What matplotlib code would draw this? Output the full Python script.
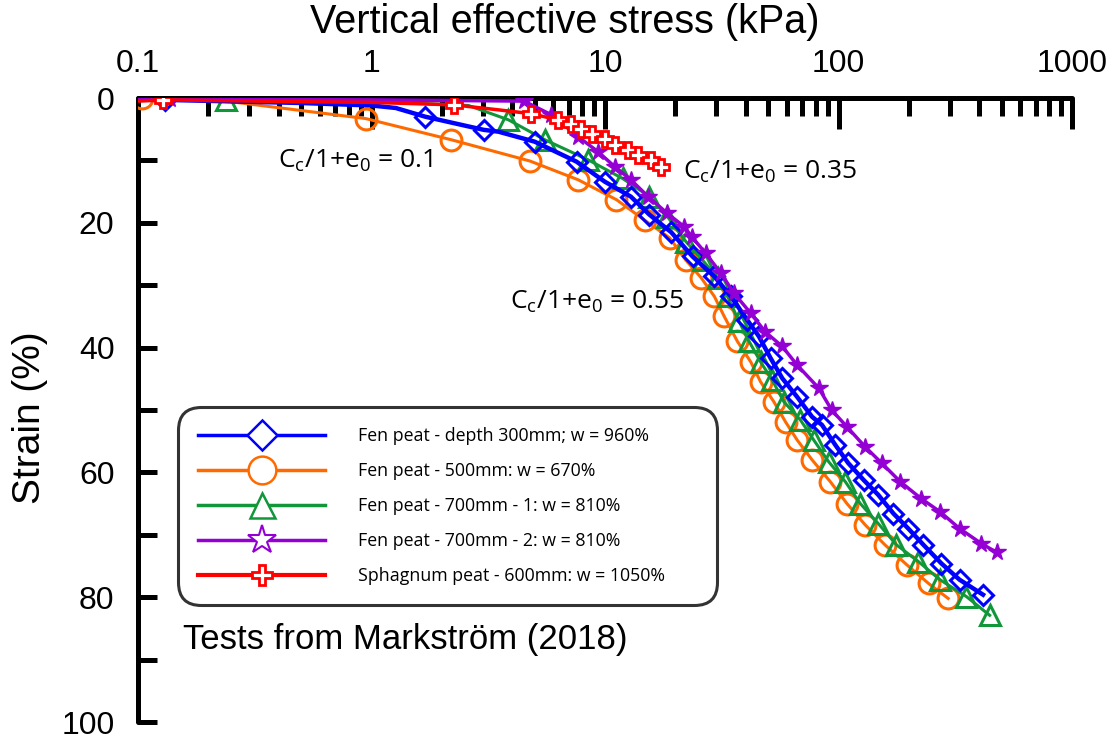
import numpy as np
import matplotlib
matplotlib.use("Agg")
import matplotlib.pyplot as plt
from matplotlib.lines import Line2D
from matplotlib.ticker import FixedLocator, NullFormatter, FuncFormatter

plt.rcParams['font.family'] = ['Liberation Sans', 'DejaVu Sans']

# Oedometer tests: vertical effective stress (kPa) vs strain (%)
blue_stress = [0.10, 0.13, 0.5, 1.0, 1.27, 1.70, 3.02, 3.5, 5.0, 7.55, 9.97, 12.9, 15.5, 19.2,
               23.7, 29.4, 34.6, 40.7, 45.6, 51.2, 57.4, 66.5, 77.1, 85, 96.9, 110, 128, 148,
               172, 199, 231, 276, 330, 416]
blue_strain = [0.3, 0.3, 0.8, 1.2, 1.6, 3.0, 5.1, 5.4, 7.0, 10.2, 13.4, 15.8, 18.7, 21.5,
               25.4, 28.6, 31.8, 35.6, 38.2, 41.7, 44.9, 47.9, 51.1, 52.4, 55.6, 58.5, 61.2, 63.6,
               66.6, 69.0, 71.6, 74.6, 77.2, 79.6]
blue_marks = [1, 5, 6, 8, 9, 10, 11, 12, 13, 14, 15, 16, 17, 18, 19, 20, 21, 22, 23, 24, 25,
              26, 27, 28, 29, 30, 31, 32, 33]

orange_stress = [0.104, 0.25, 0.945, 2.2, 4.77, 7.67, 11.2, 14.8, 18.9, 22.2, 25.8, 29.4, 32.4,
                 36.9, 42.1, 46.4, 52.9, 59.3, 66.5, 77.1, 92.3, 108.7, 130, 158, 196, 243, 295]
orange_strain = [0, 0.6, 3.3, 6.7, 10.1, 13.1, 16.3, 19.6, 22.4, 26.0, 28.8, 31.8, 35.0,
                 39.0, 42.3, 45.5, 48.7, 51.9, 54.8, 58.0, 61.5, 65.0, 68.4, 71.6, 74.8, 77.8, 80.2]
orange_marks = [0] + list(range(2, 27))

green_stress = [0.10, 0.239, 1.0, 2.6, 3.86, 5.53, 8.46, 11.9, 15.5, 18.5, 22.2, 26.2, 30.4,
                33.5, 37.5, 41.4, 46.4, 52.0, 58.4, 68.7, 78.3, 90.8, 107, 124, 148, 177, 220,
                272, 353, 444]
green_strain = [0.2, 0.3, 0.5, 1.2, 3.5, 6.7, 9.9, 12.9, 15.8, 19.0, 23.0, 26.0, 28.9,
                31.8, 35.8, 39.0, 42.3, 45.2, 48.7, 51.6, 54.8, 58.3, 61.5, 65.0, 68.2, 71.6, 74.3,
                77.2, 79.9, 82.9]
green_marks = [1] + list(range(4, 30))

purple_stress = [0.10, 0.137, 1.0, 4.5, 5.9, 7.67, 9.33, 11.0, 12.9, 15.3, 18.5, 21.8, 23.5,
                 27.0, 31.4, 35.7, 42.1, 48.6, 57.4, 66.5, 82.3, 93.5, 108.7, 130, 153, 184, 226,
                 272, 330, 409, 475]
purple_strain = [0, 0.2, 0.3, 0.5, 2.7, 6.2, 8.6, 11.0, 13.1, 15.8, 18.5, 20.6, 22.2,
                 24.9, 28.1, 31.3, 34.5, 37.5, 39.8, 42.8, 46.5, 50.0, 52.7, 55.9, 58.5, 61.5, 64.2,
                 66.3, 69.0, 71.4, 72.8]
purple_marks = [1] + list(range(3, 31))

red_stress = [0.10, 0.128, 0.5, 1.0, 2.25, 3.5, 4.8, 6.3, 7.18, 7.9, 8.8, 9.97, 11.0, 12.5,
              13.8, 15.8, 17.3]
red_strain = [0.5, 0.3, 0.6, 0.7, 1.1, 1.9, 2.5, 3.5, 4.1, 4.9, 5.7, 6.5, 7.5, 8.3,
              9.1, 9.9, 11.0]
red_marks = [1, 4] + list(range(6, 17))

labels = ['Fen peat - depth 300mm; w = 960%',
          'Fen peat - 500mm: w = 670%',
          'Fen peat - 700mm - 1: w = 810%',
          'Fen peat - 700mm - 2: w = 810%',
          'Sphagnum peat - 600mm: w = 1050%']

C_BLUE, C_ORANGE, C_GREEN, C_PURPLE, C_RED = '#0000ff', '#ff6a00', '#12963a', '#9400d3', '#ff0000'

fig = plt.figure(figsize=(11.13, 7.40), dpi=100)
ax = fig.add_axes([138/1113, 18/740, 934/1113, 624/740])

ax.plot(orange_stress, orange_strain, '-', color=C_ORANGE, lw=2.2, marker='o', ms=15,
        mfc='none', mec=C_ORANGE, mew=2.2, markevery=orange_marks, zorder=3)
ax.plot(green_stress, green_strain, '-', color=C_GREEN, lw=2.2, marker='^', ms=14,
        mfc='none', mec=C_GREEN, mew=2.2, markevery=green_marks, zorder=4)
ax.plot(blue_stress, blue_strain, '-', color=C_BLUE, lw=3.2, marker='D', ms=10,
        mfc='none', mec=C_BLUE, mew=2.2, markevery=blue_marks, zorder=5)
ax.plot(purple_stress, purple_strain, '-', color=C_PURPLE, lw=2.5, marker='*', ms=13,
        mfc=C_PURPLE, mec=C_PURPLE, mew=1, markevery=purple_marks, zorder=6)
ax.plot(red_stress, red_strain, '-', color=C_RED, lw=2.5, marker='P', ms=11,
        mfc='white', mec=C_RED, mew=2, markevery=red_marks, zorder=7)

ax.set_xscale('log')
ax.set_xlim(0.1, 1000)
ax.set_ylim(100, 0)

for s in ['right', 'bottom']:
    ax.spines[s].set_visible(False)
for s in ['top', 'left']:
    ax.spines[s].set_linewidth(3.6)
    ax.spines[s].set_capstyle('round')

ax.xaxis.tick_top()
ax.xaxis.set_major_locator(FixedLocator([0.1, 1, 10, 100, 1000]))
ax.xaxis.set_minor_locator(FixedLocator([m * 10.0**e for e in range(-1, 3) for m in range(2, 10)]))
ax.xaxis.set_minor_formatter(NullFormatter())
ax.xaxis.set_major_formatter(FuncFormatter(lambda v, p: '%g' % v))
ax.tick_params(axis='x', which='major', direction='in', length=22, width=3.6, pad=14,
               labelsize=23, top=True, bottom=False)
ax.tick_params(axis='x', which='minor', direction='in', length=13, width=3.6,
               top=True, bottom=False)

ax.set_yticks(range(0, 101, 20))
ax.set_yticks(range(10, 100, 20), minor=True)
ax.tick_params(axis='y', which='both', direction='in', length=14, width=3.6, pad=17,
               labelsize=23)

fig.text(565/1113, 1 - 22/740, 'Vertical effective stress (kPa)', ha='center', va='center',
         fontsize=28.5)
fig.text(30/1113, 1 - 418/740, 'Strain (%)', ha='center', va='center', rotation=90,
         fontsize=28)
fig.text(183/1113, 1 - 640/740, 'Tests from Markstr\u00f6m (2018)', ha='left', va='center',
         fontsize=25)

ann = dict(ha='left', va='center', fontsize=19, family=['Open Sans', 'DejaVu Sans'])
fig.text(278/1113, 1 - 161/740, r'C$_\mathregular{c}$/1+e$_\mathregular{0}$ = 0.1', **ann)
fig.text(683/1113, 1 - 172/740, r'C$_\mathregular{c}$/1+e$_\mathregular{0}$ = 0.35', **ann)
fig.text(510/1113, 1 - 302/740, r'C$_\mathregular{c}$/1+e$_\mathregular{0}$ = 0.55', **ann)

handles = [
    Line2D([], [], color=C_BLUE, lw=2.5, marker='D', ms=15, mfc='white', mec=C_BLUE, mew=1.8),
    Line2D([], [], color=C_ORANGE, lw=2.5, marker='o', ms=20, mfc='white', mec=C_ORANGE, mew=1.8),
    Line2D([], [], color=C_GREEN, lw=2.5, marker='^', ms=18, mfc='white', mec=C_GREEN, mew=1.8),
    Line2D([], [], color=C_PURPLE, lw=2.5, marker='*', ms=21, mfc='white', mec=C_PURPLE, mew=1.5),
    Line2D([], [], color=C_RED, lw=3, marker='P', ms=14, mfc='white', mec=C_RED, mew=2),
]
leg = fig.legend(handles, labels, loc='upper left',
                 bbox_to_anchor=(178/1113, 1 - 607/740, 539/1113, 200/740),
                 bbox_transform=fig.transFigure, mode='expand', borderaxespad=0,
                 frameon=True, fancybox=True,
                 prop={'family': ['Open Sans', 'DejaVu Sans'], 'size': 12.8},
                 handlelength=7.1, handletextpad=1.85, labelspacing=0.95, borderpad=1.15)
leg.get_frame().set_edgecolor('black')
leg.get_frame().set_linewidth(2.2)
leg.get_frame().set_boxstyle('round,pad=0.0,rounding_size=1.3')

fig.savefig('out.png', dpi=100)
